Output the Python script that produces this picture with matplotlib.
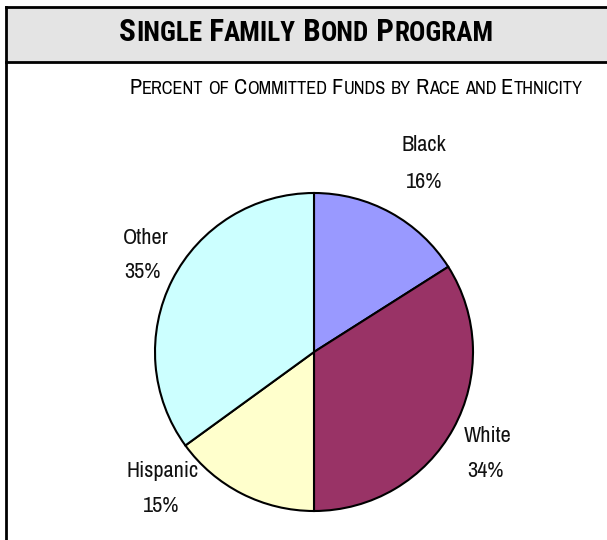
import matplotlib
matplotlib.use("Agg")
import matplotlib.pyplot as plt
from matplotlib.patches import Rectangle
from matplotlib.lines import Line2D

# Data
categories = ["Black", "White", "Hispanic", "Other"]
percents = [16, 34, 15, 35]
colors = ["#9999FF", "#993366", "#FFFFCC", "#CCFFFF"]

title_text = "Single Family Bond Program"
subtitle_text = "Percent of Committed Funds by Race and Ethnicity"

# Label anchor points (pie data units): name line, percent line
name_pos = [(0.69, 1.30), (1.09, -0.53), (-0.95, -0.75), (-1.06, 0.72)]
pct_pos = [(0.69, 1.07), (1.08, -0.75), (-0.96, -0.97), (-1.08, 0.50)]

W, H, DPI = 607, 540, 100
NARROW = ["Archivo Narrow", "Liberation Sans Narrow", "DejaVu Sans"]
NARROW_BOLD = ["Roboto Condensed", "Fira Sans Condensed", "Archivo Narrow", "DejaVu Sans"]

fig = plt.figure(figsize=(W / DPI, H / DPI), dpi=DPI)
fig.patch.set_facecolor("white")


def px(x, y):
    """Pixel (from top-left) to figure fraction."""
    return x / W, 1 - y / H


# Header band and frame
band_x0, band_y0 = px(6, 62)
fig.add_artist(Rectangle((band_x0, band_y0), 1 - band_x0, (62 - 7) / H,
                         transform=fig.transFigure, facecolor="#E4E4E4",
                         edgecolor="none", zorder=0))
for (xa, ya), (xb, yb) in [((6, 7), (607, 7)), ((6, 62), (607, 62)), ((6, 7), (6, 540))]:
    (fx0, fy0), (fx1, fy1) = px(xa, ya), px(xb, yb)
    fig.add_artist(Line2D([fx0, fx1], [fy0, fy1], transform=fig.transFigure,
                          color="black", lw=2.0, solid_capstyle="projecting", zorder=2))

renderer = fig.canvas.get_renderer()


def small_caps(text, cx, base_y, big, small, family, weight):
    """Draw text in small caps: capitals at full size, lowercase as smaller capitals."""
    pieces = []
    for ch in text:
        size = small if ch.islower() else big
        if pieces and pieces[-1][1] == size:
            pieces[-1][0] += ch.upper()
        else:
            pieces.append([ch.upper(), size])
    artists = []
    total = 0.0
    for s, size in pieces:
        t = fig.text(0, 0, s, fontsize=size, family=family, weight=weight,
                     ha="left", va="baseline", color="black")
        bb = t.get_window_extent(renderer)
        artists.append((t, bb.width))
        total += bb.width
    x = cx - total / 2
    for t, w in artists:
        t.set_position(px(x, base_y))
        x += w


small_caps(title_text, 306, 41, 22.5, 19.5, NARROW_BOLD, "bold")
small_caps(subtitle_text, 356, 94, 16, 13.2, NARROW, "normal")

# Pie
cx, cy, r = 314, 352, 159
ax = fig.add_axes([(cx - r) / W, 1 - (cy + r) / H, 2 * r / W, 2 * r / H])
ax.pie(percents, colors=colors, startangle=90, counterclock=False, radius=1,
       wedgeprops=dict(edgecolor="black", linewidth=1.5))
ax.set_xlim(-1, 1)
ax.set_ylim(-1, 1)
ax.set_aspect("equal")
ax.axis("off")

for name, val, (nx, ny), (qx, qy) in zip(categories, percents, name_pos, pct_pos):
    ax.text(nx, ny, name, ha="center", va="center", fontsize=16, family=NARROW,
            color="#111111", clip_on=False)
    ax.text(qx, qy, f"{val}%", ha="center", va="center", fontsize=16, family=NARROW,
            color="#111111", clip_on=False)

fig.savefig("out.png", dpi=DPI, facecolor="white")
